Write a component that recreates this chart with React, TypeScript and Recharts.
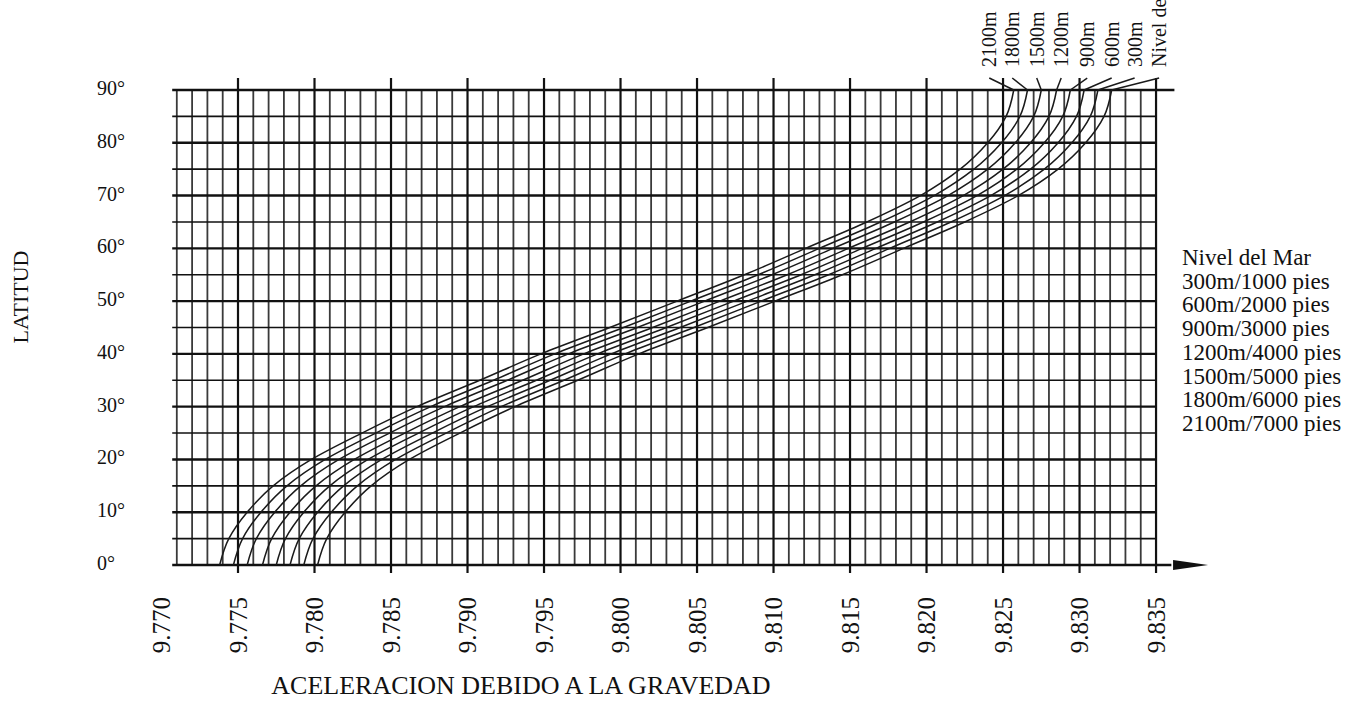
import React from "react";
import {
  LineChart,
  Line,
  XAxis,
  YAxis,
  ReferenceLine,
  ReferenceDot,
  Legend,
} from "recharts";

const FONT = '"Liberation Serif", "Times New Roman", serif';
const INK = "#111";

// latitude (deg) of every reading
const latitudes = [0, 5, 10, 15, 20, 25, 30, 35, 40, 45, 50, 55, 60, 65, 70, 75, 80, 85, 90];

// gravity (m/s2)
const seaLevel = [9.7802, 9.7808, 9.782, 9.7837, 9.7862, 9.7895, 9.7931, 9.7972, 9.8012, 9.8057, 9.8101, 9.8145, 9.8185, 9.8225, 9.826, 9.8286, 9.8304, 9.8316, 9.8321];
const alt300 = [9.7793, 9.7799, 9.7811, 9.7828, 9.7853, 9.7886, 9.7922, 9.7963, 9.8003, 9.8048, 9.8092, 9.8136, 9.8176, 9.8216, 9.8251, 9.8277, 9.8295, 9.8307, 9.8312];
const alt600 = [9.7784, 9.779, 9.7802, 9.7819, 9.7844, 9.7877, 9.7913, 9.7954, 9.7994, 9.8039, 9.8083, 9.8127, 9.8167, 9.8207, 9.8242, 9.8268, 9.8286, 9.8298, 9.8303];
const alt900 = [9.7775, 9.7781, 9.7793, 9.781, 9.7835, 9.7868, 9.7904, 9.7945, 9.7985, 9.803, 9.8074, 9.8118, 9.8158, 9.8198, 9.8233, 9.8259, 9.8277, 9.8289, 9.8294];
const alt1200 = [9.7766, 9.7772, 9.7784, 9.7801, 9.7826, 9.7859, 9.7895, 9.7936, 9.7976, 9.8021, 9.8065, 9.8109, 9.8149, 9.8189, 9.8224, 9.825, 9.8268, 9.828, 9.8285];
const alt1500 = [9.7756, 9.7762, 9.7774, 9.7791, 9.7816, 9.7849, 9.7885, 9.7926, 9.7966, 9.8011, 9.8055, 9.8099, 9.8139, 9.8179, 9.8214, 9.824, 9.8258, 9.827, 9.8275];
const alt1800 = [9.7747, 9.7753, 9.7765, 9.7782, 9.7807, 9.784, 9.7876, 9.7917, 9.7957, 9.8002, 9.8046, 9.809, 9.813, 9.817, 9.8205, 9.8231, 9.8249, 9.8261, 9.8266];
const alt2100 = [9.7738, 9.7744, 9.7756, 9.7773, 9.7798, 9.7831, 9.7867, 9.7908, 9.7948, 9.7993, 9.8037, 9.8081, 9.8121, 9.8161, 9.8196, 9.8222, 9.824, 9.8252, 9.8257];

const legendNames = [
  "Nivel del Mar",
  "300m/1000 pies",
  "600m/2000 pies",
  "900m/3000 pies",
  "1200m/4000 pies",
  "1500m/5000 pies",
  "1800m/6000 pies",
  "2100m/7000 pies",
];
const topLabels = ["Nivel del Mar", "300m", "600m", "900m", "1200m", "1500m", "1800m", "2100m"];

// where each curve's leader line ends, under its label above the 90° line
const leaderTops = [9.8352, 9.8336, 9.8321, 9.8305, 9.8288, 9.8272, 9.8256, 9.8241];
const leaderLat = 92.27;

const xTicks = [9.77, 9.775, 9.78, 9.785, 9.79, 9.795, 9.8, 9.805, 9.81, 9.815, 9.82, 9.825, 9.83, 9.835];
const latTicks = [0, 10, 20, 30, 40, 50, 60, 70, 80, 90];
const gridLats = [0, 5, 10, 15, 20, 25, 30, 35, 40, 45, 50, 55, 60, 65, 70, 75, 80, 85, 90];

const curves = [seaLevel, alt300, alt600, alt900, alt1200, alt1500, alt1800, alt2100];

// minor grid every 0.001 between the labelled lines
const minorLines: number[] = [];
for (let i = 1; i <= 64; i++) {
  if (i % 5 !== 0) minorLines.push(+(9.77 + i * 0.001).toFixed(4));
}
const majorLines = xTicks.filter((v) => v > 9.771);

const GTick = (props: any) => {
  const { x, payload } = props;
  return (
    <text
      transform={`translate(${x},597) rotate(-90)`}
      textAnchor="end"
      dominantBaseline="central"
      fontSize={25}
      fontFamily={FONT}
      fill={INK}
    >
      {Number(payload.value).toFixed(3)}
    </text>
  );
};

const LatTick = (props: any) => (
  <text
    x={97}
    y={props.y}
    dy={-2}
    dominantBaseline="central"
    fontSize={20}
    fontFamily={FONT}
    fill={INK}
  >
    {`${props.payload.value}°`}
  </text>
);

const TopLabel = (text: string) => (props: any) => (
  <text
    transform={`translate(${props.cx},${props.cy - 11}) rotate(-90)`}
    textAnchor="start"
    dominantBaseline="central"
    fontSize={20}
    fontFamily={FONT}
    fill={INK}
  >
    {text}
  </text>
);

const Arrow = (props: any) => {
  const { cx, cy } = props;
  return <path d={`M${cx},${cy} L${cx - 35},${cy - 5} L${cx - 35},${cy + 5} Z`} fill={INK} />;
};

const LegendBox = () => (
  <div style={{ fontFamily: FONT, fontSize: 23, lineHeight: "23.7px", color: INK, whiteSpace: "nowrap" }}>
    {legendNames.map((n) => (
      <div key={n}>{n}</div>
    ))}
  </div>
);

export default function App() {
  return (
    <div style={{ position: "absolute", left: 0, top: 0, background: "#fff" }}>
      <LineChart
        width={1358}
        height={702}
        layout="vertical"
        margin={{ top: 77.86, right: 148.4, bottom: 63.8, left: 101.5 }}
      >
        <XAxis
          type="number"
          dataKey="g"
          domain={[9.77, 9.8385]}
          ticks={xTicks}
          interval={0}
          height={60}
          axisLine={false}
          tickLine={false}
          tick={GTick}
          label={{
            content: () => (
              <text x={521} y={694} textAnchor="middle" fontSize={26} fontFamily={FONT} fill={INK}>
                ACELERACION DEBIDO A LA GRAVEDAD
              </text>
            ),
          }}
        />
        <YAxis
          type="number"
          dataKey="lat"
          reversed
          domain={[-2.5, 92.3]}
          ticks={latTicks}
          interval={0}
          width={60}
          axisLine={false}
          tickLine={false}
          tick={LatTick}
          label={{
            content: () => (
              <text
                transform="translate(20,297) rotate(-90)"
                textAnchor="middle"
                dominantBaseline="central"
                fontSize={22}
                fontFamily={FONT}
                fill={INK}
              >
                LATITUD
              </text>
            ),
          }}
        />

        {minorLines.map((v) => (
          <ReferenceLine
            key={`mn-${v}`}
            segment={[{ x: v, y: 0 }, { x: v, y: 90 }]}
            stroke="#3a3a3a"
            strokeWidth={1.8}
          />
        ))}
        {gridLats.map((lat) => (
          <ReferenceLine
            key={`h-${lat}`}
            segment={[
              { x: 9.7707, y: lat },
              { x: lat === 90 ? 9.8362 : lat === 0 ? 9.836 : 9.835, y: lat },
            ]}
            stroke={INK}
            strokeWidth={lat % 10 === 0 ? 2.4 : 1.6}
          />
        ))}
        {majorLines.map((v) => (
          <ReferenceLine
            key={`mj-${v}`}
            segment={[{ x: v, y: -1.5 }, { x: v, y: leaderLat }]}
            stroke={INK}
            strokeWidth={2.2}
          />
        ))}

        {curves.map((vals, k) => (
          <ReferenceLine
            key={`ld-${k}`}
            segment={[
              { x: vals[vals.length - 1], y: 90 },
              { x: leaderTops[k], y: leaderLat },
            ]}
            stroke="#1a1a1a"
            strokeWidth={1.5}
          />
        ))}
        {curves.map((vals, k) => (
          <ReferenceDot
            key={`lb-${k}`}
            x={leaderTops[k]}
            y={leaderLat}
            r={0}
            shape={TopLabel(topLabels[k])}
          />
        ))}
        <ReferenceDot x={9.8384} y={0} r={0} shape={Arrow} />

        {curves.map((vals, k) => (
          <Line
            key={legendNames[k]}
            name={legendNames[k]}
            data={latitudes.map((lat, i) => ({ lat, g: vals[i] }))}
            dataKey="g"
            type="monotone"
            stroke="#1a1a1a"
            strokeWidth={1.5}
            dot={false}
            isAnimationActive={false}
          />
        ))}

        <Legend
          layout="vertical"
          align="center"
          verticalAlign="middle"
          wrapperStyle={{ left: 1182, top: 246, width: 176 }}
          content={LegendBox}
        />
      </LineChart>
    </div>
  );
}
